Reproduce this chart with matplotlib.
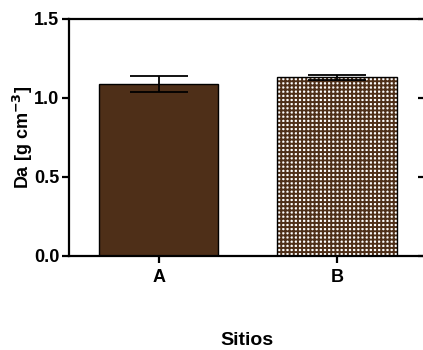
import matplotlib
matplotlib.use('Agg')
import matplotlib.pyplot as plt

plt.rcParams['font.family'] = ['Liberation Sans', 'DejaVu Sans']
plt.rcParams['font.weight'] = 'bold'
plt.rcParams['hatch.linewidth'] = 1.4

# Data
sitios = ['A', 'B']
da_mean = [1.085, 1.127]
da_err = [0.053, 0.017]

brown = '#4e2f18'

fig = plt.figure(figsize=(4.23, 3.5), dpi=100)
ax = fig.add_axes([0.163, 0.270, 0.840, 0.677])

x = range(len(sitios))
ax.bar(x[0], da_mean[0], width=0.67, color=brown, edgecolor='black', linewidth=1)
ax.bar(x[1], da_mean[1], width=0.67, color='white', edgecolor=brown, hatch='++++', linewidth=0)
ax.bar(x[1], da_mean[1], width=0.67, color='none', edgecolor='black', linewidth=1)
ax.errorbar(list(x), da_mean, yerr=da_err, fmt='none', ecolor='black',
            elinewidth=1.3, capsize=21, capthick=1.3)

ax.set_xlim(-0.504, 1.49)
ax.set_ylim(0, 1.5)
ax.set_yticks([0.0, 0.5, 1.0, 1.5])
ax.set_yticklabels(['0.0', '0.5', '1.0', '1.5'], fontweight='bold')
ax.set_xticks(list(x))
ax.set_xticklabels(sitios, fontweight='bold', fontsize=13)

for s in ax.spines.values():
    s.set_linewidth(1.6)
ax.spines['right'].set_visible(False)
ax.tick_params(axis='y', length=5, width=1.6, labelsize=13, pad=2)
ax.tick_params(axis='x', length=5, width=1.6, pad=5)

# short marks of the clipped right axis
sec = ax.secondary_yaxis('right')
sec.set_yticks([0.0, 0.5, 1.0, 1.5])
sec.tick_params(direction='in', length=4, width=1.6, labelright=False)
sec.spines['right'].set_visible(False)

ax.set_ylabel('Da [g cm$^{\\mathbf{-3}}$]', fontsize=13, fontweight='bold', labelpad=-1)
ax.set_xlabel('Sitios', fontsize=14, fontweight='bold', labelpad=33)

fig.savefig('out.png', dpi=100)
